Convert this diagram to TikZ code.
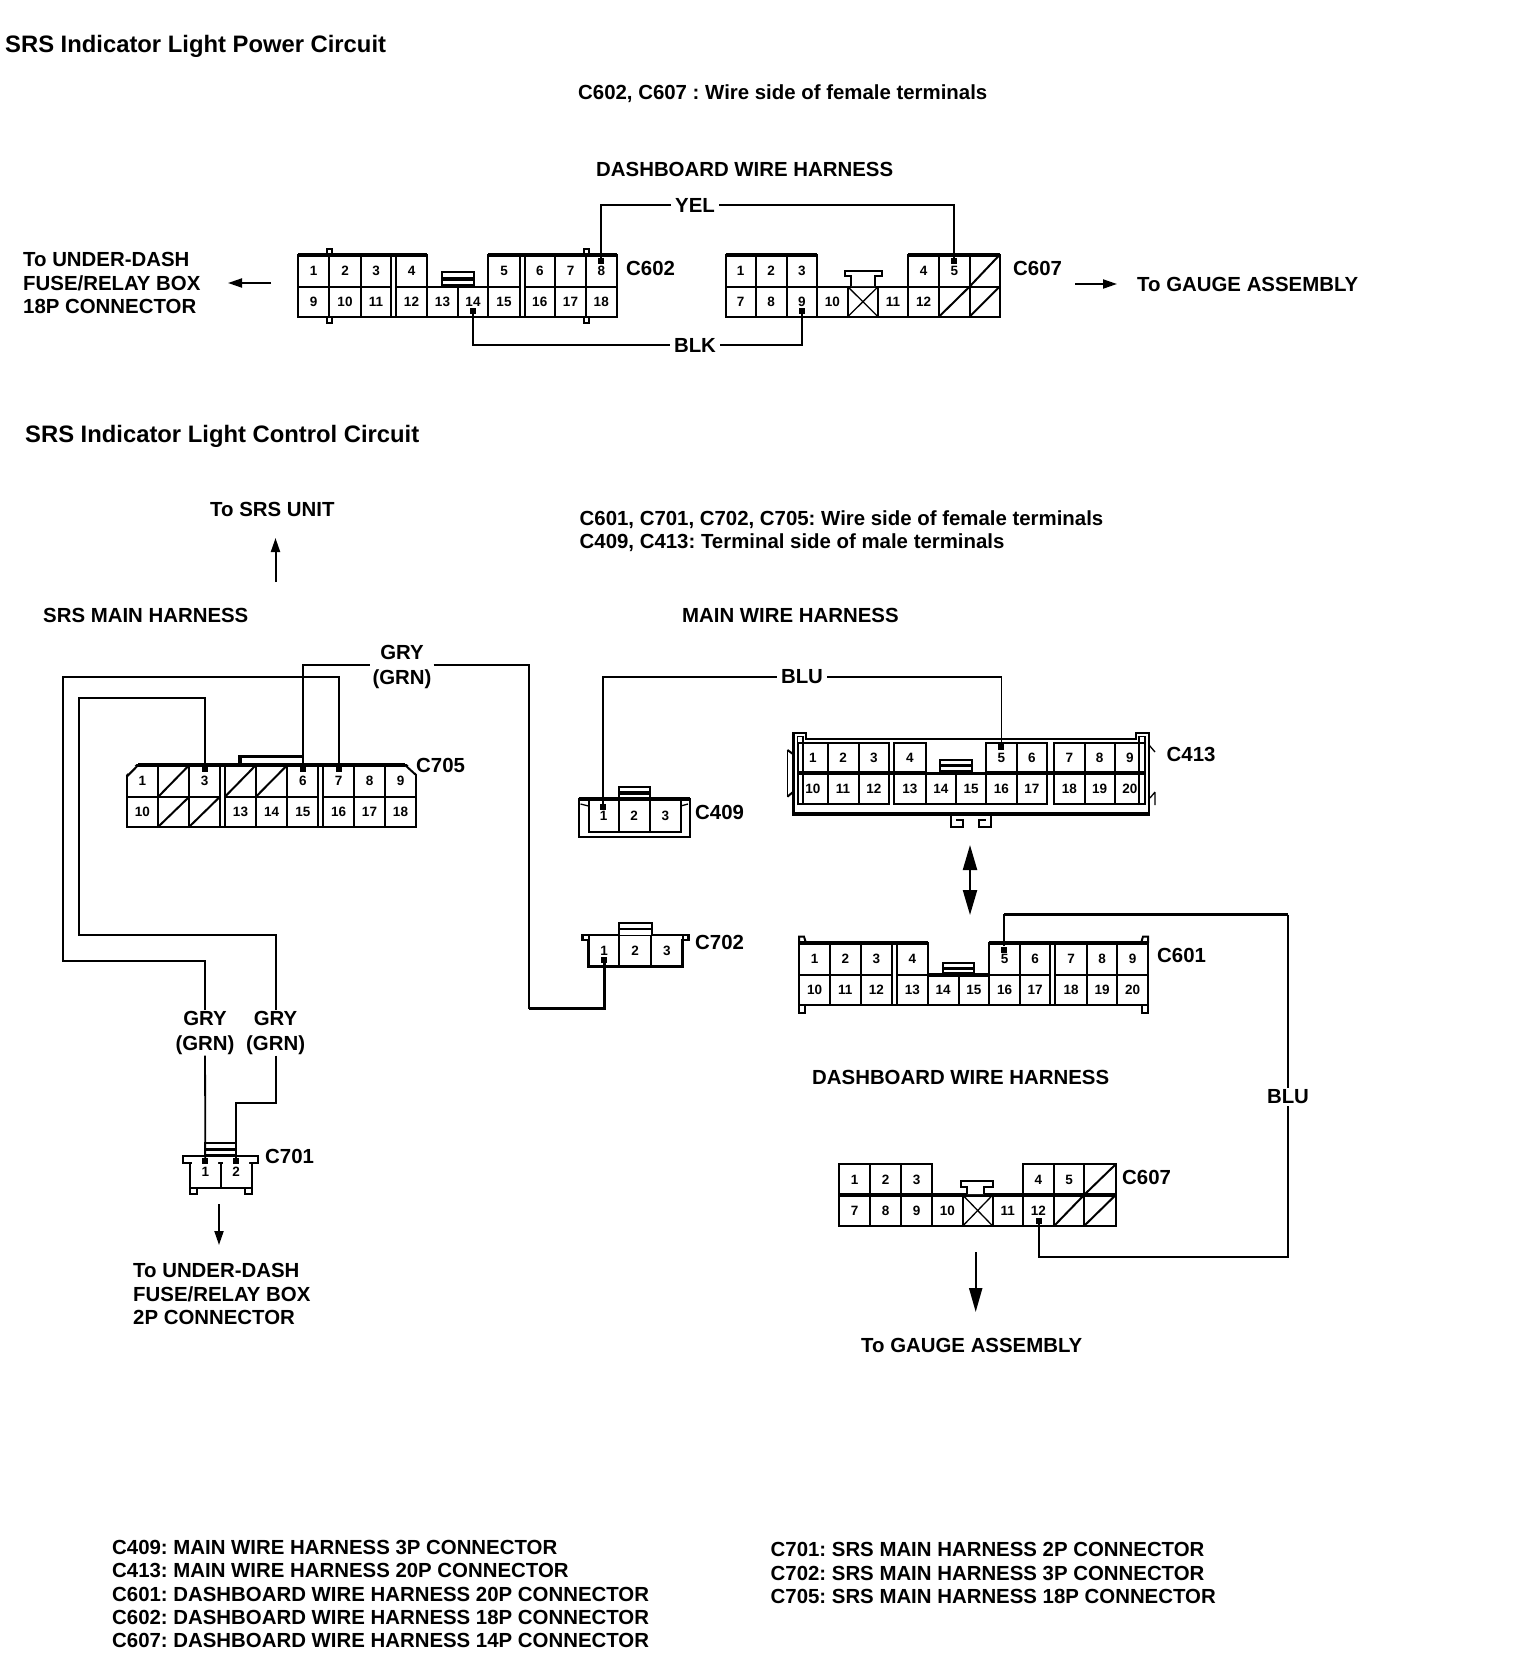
\documentclass[tikz,border=0pt]{standalone}
\usepackage{fontspec}
\setmainfont{Liberation Sans}
\usetikzlibrary{arrows.meta}
\tikzset{
  txt/.style={font=\frenchspacing\fontsize{20.4}{23.4}\selectfont\bfseries,inner sep=0pt,anchor=west,align=left},
  ttl/.style={txt,font=\frenchspacing\fontsize{23.8}{26}\selectfont\bfseries},
  wlabel/.style={font=\fontsize{20.4}{24.3}\selectfont\bfseries,inner sep=4pt,fill=white,align=center},
  pin/.style={font=\fontsize{13.5}{14}\selectfont\bfseries,inner sep=0pt},
  cellb/.style={line width=2pt,draw=black,line join=miter},
  thinl/.style={line width=1.3pt},
  heavy/.style={line width=3.2pt},
  outl/.style={line width=2.4pt,line join=miter},
  wire/.style={line width=1.8pt},
  fatwire/.style={line width=3pt},
  pdot/.style={rectangle,fill=black,inner sep=0pt,minimum size=6pt},
  arr/.style={line width=2pt,-{Triangle[length=14pt,width=9pt]}},
  bigarr/.style={line width=2.2pt,-{Triangle[length=24pt,width=13pt]}},
  dblarr/.style={line width=2.2pt,{Triangle[length=25pt,width=14pt]}-{Triangle[length=25pt,width=14pt]}},
}
\newcommand\pinrow[4]{\foreach \a/\b/\t in {#4}{%
  \draw[cellb] (\a,#2) rectangle (\b,#3);
  \node[pin] (#1-\t) at ({(\a+\b)/2},{(#2+#3)/2}) {\t};}}
\newcommand\slashrow[3]{\foreach \a/\b in {#3}{%
  \draw[cellb] (\a,#1) rectangle (\b,#2);
  \draw[cellb] (\a,#2) -- (\b,#1);}}
\newcommand\xcell[4]{\draw[cellb] (#1,#3) rectangle (#2,#4);\draw[thinl] (#1,#3) -- (#2,#4) (#1,#4) -- (#2,#3);}
\newcommand\latchbox[4]{\draw[cellb,fill=white] (#1,#3) rectangle (#2,#4);
  \draw[heavy] (#1,{#3+0.5*(#4-#3)}) -- (#2,{#3+0.5*(#4-#3)}) (#1,#4) -- (#2,#4);}
\begin{document}
\begin{tikzpicture}[x=1pt,y=-1pt]
\useasboundingbox (0,0) rectangle (1520,1654);
\fill[white] (0,0) rectangle (1520,1654);

% ---------- C602
\pinrow{c602}{255}{286.7}{298/329/1,329/361/2,361/391/3,396/427/4,488/520/5,524.5/555/6,555/586/7,586/616.5/8}
\pinrow{c602}{286.7}{316.7}{298/329/9,329/361/10,361/391/11,396/427/12,427/458/13,458/488/14,488/520/15,524.5/555/16,555/586/17,586/616.5/18}
\draw[heavy] (298,255) -- (427,255) (488,255) -- (616.5,255);
\draw[outl] (298,316.7) -- (616.5,316.7);
\draw[cellb] (326.5,249) rectangle (331.5,255) (326.5,317) rectangle (331.5,323) (583.5,249) rectangle (588.5,255) (583.5,317) rectangle (588.5,323);
\latchbox{442}{473.6}{272}{286}

% ---------- C607 (top)
\pinrow{c607}{255}{286.7}{725.6/755.7/1,755.7/786.7/2,786.7/816.8/3,908/939/4,939/969.5/5}
\pinrow{c607}{286.7}{316.7}{725.6/755.7/7,755.7/786.7/8,786.7/816.8/9,816.8/847.8/10,878/908/11,908/939/12}
\slashrow{255}{286.7}{969.5/999.5}
\slashrow{286.7}{316.7}{939/969.5,969.5/999.5}
\xcell{847.8}{878}{286.7}{316.7}
\draw[heavy] (725.6,255) -- (816.8,255) (908,255) -- (999.5,255);
\draw[cellb,fill=white] (851,286) -- (851,276) -- (845,276) -- (845,271) -- (882,271) -- (882,276) -- (875,276) -- (875,286);

% ---------- wires, top
\node[pdot] (d8) at (601,261) {};
\node[pdot] (d5) at (954,261) {};
\node[pdot] (d14) at (473,311) {};
\node[pdot] (d9) at (801.7,311) {};
\node[wlabel] (yel) at (695,205) {YEL};
\node[wlabel] (blk) at (695,345) {BLK};
\draw[wire] (d8) |- (yel) -| (d5);
\draw[wire] (d14) |- (blk) -| (d9);

\coordinate (a1s) at (271,283); \coordinate (a1e) at (228,283);
\draw[arr] (a1s) -- (a1e);
\coordinate (a2s) at (1075,284); \coordinate (a2e) at (1117,284);
\draw[arr] (a2s) -- (a2e);
\coordinate (a3s) at (275.5,582); \coordinate (a3e) at (275.5,538);
\draw[arr] (a3s) -- (a3e);

% ---------- C705
\pinrow{c705}{765}{796.7}{126.7/158.3/1,189.3/220/3,287.3/318.3/6,323.3/354/7,354/385/8,385/416/9}
\pinrow{c705}{796.7}{826.7}{126.7/158.3/10,225/256/13,256/287.3/14,287.3/318.3/15,323.3/354/16,354/385/17,385/416/18}
\slashrow{765}{796.7}{158.3/189.3,225/256,256/287.3}
\slashrow{796.7}{826.7}{158.3/189.3,189.3/220}
\draw[heavy] (138,765) -- (405,765);
\draw[outl] (126.7,826.7) -- (416,826.7);
\fill[white] (124,762) -- (138.3,762) -- (124,777) -- cycle;
\fill[white] (405,762) -- (418.5,762) -- (418.5,776) -- cycle;
\draw[cellb] (126.7,776.7) -- (138.3,765) (405,765) -- (416,775);
\draw[heavy] (240,763.5) -- (240,756.7) -- (302.8,756.7);

% ---------- wires, C705 to C701 and C702
\node[pdot] (d3) at (204.6,769) {};
\node[pdot] (d6) at (302.8,769) {};
\node[pdot] (d7) at (338.6,769) {};
\node[wlabel,inner sep=2pt] (gry1) at (402,667) {GRY\\(GRN)};
\node[wlabel,inner sep=1pt] (gry2) at (205,1033) {GRY\\(GRN)};
\node[wlabel,inner sep=1pt] (gry3) at (275.6,1033) {GRY\\(GRN)};
\coordinate (c1) at (62.7,676.7);
\coordinate (c2) at (62.7,960.6);
\coordinate (c3) at (79,698);
\coordinate (c4) at (79,935);
\coordinate (c5) at (236.2,1102.7);
\coordinate (gc) at (529,1008.5);
\draw[wire] (d7) |- (c1) -- (c2) -| (gry2);
\draw[wire] (d3) |- (c3) -- (c4) -| (gry3);
\draw[wire,line width=2.4pt] (d6) |- ([yshift=2pt]gry1.west);
\draw[wire] ([yshift=2pt]gry1.east) -| (gc);

% ---------- C701
\pinrow{c701}{1155.7}{1188}{190/220.7/1,220.7/251.7/2}
\draw[outl,fill=white,even odd rule] (183,1155.7) rectangle (258,1162.7);
\draw[cellb] (190,1162.7) -- (190,1194) -- (197,1194) -- (197,1188) (245,1188) -- (245,1194) -- (251.7,1194) -- (251.7,1162.7);
\fill[white] (192,1158) rectangle (218,1164) (223,1158) rectangle (249,1164);
\latchbox{205.3}{236.2}{1143}{1155.7}
\node[pdot] (e1) at (205.3,1161) {};
\node[pdot] (e2) at (236.2,1161) {};
\draw[wire] (gry2) -- (e1);
\draw[wire] (gry3) |- (c5) -- (e2);
\coordinate (a4s) at (219,1204); \coordinate (a4e) at (219,1245);
\draw[arr] (a4s) -- (a4e);

% ---------- C409
\pinrow{c409}{799}{832}{588.6/618.6/1,618.6/649.8/2,649.8/680.7/3}
\draw[outl] (578.7,799) rectangle (689.8,836.7);
\draw[heavy] (578.7,799) -- (689.8,799);
\draw[thinl] (580.5,804) -- (588.6,806) (688,804) -- (680.7,806);
\latchbox{618.6}{649.8}{787}{799}
\node[pdot] (f1) at (603.1,807) {};

% ---------- C413
\draw[thinl] (797.5,805) -- (797.5,736.5) -- (803,736.5) -- (803,805) (1139,805) -- (1139,736.5) -- (1145,736.5) -- (1145,805);
\pinrow{c413}{742.7}{773}{798/827.7/1,827.7/858.5/2,858.5/889/3,894/925.7/4,986/1016.7/5,1016.7/1047/6,1054/1084.6/7,1084.6/1114.7/8,1114.7/1145/9}
\pinrow{c413}{773}{804}{798/827.7/10,827.7/858.5/11,858.5/889/12,894/925.7/13,925.7/956/14,956/986/15,986/1016.7/16,1016.7/1047/17,1054/1084.6/18,1084.6/1114.7/19,1114.7/1145/20}
\draw[heavy] (798,773) -- (1145,773);
\draw[outl] (793.3,815) -- (793.3,732.7) -- (806,732.7) -- (806,739) -- (1136,739) -- (1136,732.7) -- (1149,732.7) -- (1149,815) -- cycle;
\draw[heavy] (793.3,814) -- (1149,814);
\fill[white] (927,741) rectangle (985,772);
\draw[cellb] (925.7,742.7) -- (925.7,773) (986,742.7) -- (986,773);
\latchbox{940.4}{972.4}{760}{771.7}
\draw[thinl] (787.4,750) -- (787.4,796.7);
\draw[cellb] (787.4,750) -- (793,754) (787.4,796.7) -- (793,792);
\draw[thinl] (1149,745) -- (1155,752) (1155,792) -- (1155,805) (1155,792) -- (1150,798);
\draw[cellb] (951,815) -- (951,826.7) -- (963,826.7) -- (963,820) -- (956,820) (991,815) -- (991,826.7) -- (979,826.7) -- (979,820) -- (986,820);
\node[pdot] (f5) at (1001.4,747) {};

% ---------- BLU wire C409 to C413
\node[wlabel] (blu1) at (802,677) {BLU};
\draw[wire] (f1) |- (blu1) -| (f5);

% ---------- C702
\pinrow{c702}{935}{966.7}{588.6/619.4/1,619.4/651/2,651/682.6/3}
\draw[outl] (588.6,966.7) -- (588.6,940) -- (582.6,940) -- (582.6,935) -- (688.6,935) -- (688.6,940) -- (682.6,940) -- (682.6,966.7) -- cycle;
\draw[heavy] (588.6,966.7) -- (682.6,966.7);
\draw[cellb,fill=white] (619,935) -- (619,923) -- (652,923) -- (652,935);
\draw[cellb] (619,929) -- (652,929);
\node[pdot] (g1) at (604,960) {};
\draw[fatwire] (gc) -| (g1);

% ---------- double arrow
\coordinate (da) at (970,845); \coordinate (db) at (970,915);
\draw[dblarr] (da) -- (db);

% ---------- C601
\pinrow{c601}{943}{975}{799/830/1,830/860.5/2,860.5/892/3,897/927.7/4,989/1020/5,1020/1050/6,1055/1087/7,1087/1117.4/8,1117.4/1148/9}
\pinrow{c601}{975}{1005}{799/830/10,830/860.5/11,860.5/892/12,897/927.7/13,927.7/958.5/14,958.5/989/15,989/1020/16,1020/1050/17,1055/1087/18,1087/1117.4/19,1117.4/1148/20}
\draw[heavy] (799,943) -- (927.7,943) (989,943) -- (1148,943) (927.7,975) -- (989,975);
\draw[outl] (799,1005) -- (1148,1005);
\draw[cellb] (799,943) -- (799,936.7) -- (804,936.7) -- (806,943) (1148,943) -- (1148,936.7) -- (1143,936.7) -- (1141,943);
\draw[cellb] (799,1005) -- (799,1012.7) -- (805,1012.7) -- (805,1005) (1148,1005) -- (1148,1012.7) -- (1142,1012.7) -- (1142,1005);
\latchbox{942.7}{974}{962.7}{973.5}
\node[pdot] (h5) at (1004,949.5) {};

% ---------- C607 (lower)
\pinrow{c607b}{1164.3}{1195}{839/870/1,870/901/2,901/932/3,1022.7/1054/4,1054/1084/5}
\pinrow{c607b}{1195}{1226}{839/870/7,870/901/8,901/932/9,932/962.7/10,992.7/1022.7/11,1022.7/1054/12}
\slashrow{1164.3}{1195}{1084/1115.7}
\slashrow{1195}{1226}{1054/1084,1084/1115.7}
\xcell{962.7}{992.7}{1195}{1226}
\draw[heavy] (839,1195) -- (1115.7,1195);
\draw[cellb,fill=white] (967,1194) -- (967,1186.5) -- (961,1186.5) -- (961,1181) -- (992.7,1181) -- (992.7,1186.5) -- (984,1186.5) -- (984,1194);
\node[pdot] (k12) at (1039,1220.5) {};

% ---------- BLU wire C601 to C607
\coordinate (r1) at (1288,914.5);
\coordinate (r2) at (1288,1257);
\node[wlabel,inner sep=2pt] (blu2) at (1288,1097) {BLU};
\draw[wire] (h5) |- (r1);
\draw[fatwire] (h5 |- r1) -- (r1);
\draw[wire] (r1) -- (blu2) -- (r2) -| (k12);
\coordinate (a5s) at (975.7,1252); \coordinate (a5e) at (975.7,1312);
\draw[bigarr] (a5s) -- (a5e);

% ---------- headings and texts
\node[ttl] (t1) at (5,46) {SRS Indicator Light Power Circuit};
\node[txt] (t2) at (578,93.5) {C602, C607 : Wire side of female terminals};
\node[txt] (t3) at (596,169.5) {DASHBOARD WIRE HARNESS};
\node[txt] (t4) at (23,283) {To UNDER-DASH\\FUSE/RELAY BOX\\18P CONNECTOR};
\node[txt] (t5) at (1137,284.5) {To GAUGE ASSEMBLY};
\node[ttl] (t6) at (25,436.5) {SRS Indicator Light Control Circuit};
\node[txt] (t7) at (210,509.5) {To SRS UNIT};
\node[txt] (t8) at (579.5,531) {C601, C701, C702, C705: Wire side of female terminals\\C409, C413: Terminal side of male terminals};
\node[txt] (t9) at (43,615.5) {SRS MAIN HARNESS};
\node[txt] (t10) at (682,615.5) {MAIN WIRE HARNESS};
\node[txt] (t11) at (133,1294) {To UNDER-DASH\\FUSE/RELAY BOX\\2P CONNECTOR};
\node[txt] (t12) at (812,1077) {DASHBOARD WIRE HARNESS};
\node[txt] (t13) at (861,1345) {To GAUGE ASSEMBLY};
\node[txt] (t14) at (112,1594) {C409: MAIN WIRE HARNESS 3P CONNECTOR\\C413: MAIN WIRE HARNESS 20P CONNECTOR\\C601: DASHBOARD WIRE HARNESS 20P CONNECTOR\\C602: DASHBOARD WIRE HARNESS 18P CONNECTOR\\C607: DASHBOARD WIRE HARNESS 14P CONNECTOR};
\node[txt] (t15) at (770.5,1573) {C701: SRS MAIN HARNESS 2P CONNECTOR\\C702: SRS MAIN HARNESS 3P CONNECTOR\\C705: SRS MAIN HARNESS 18P CONNECTOR};

% connector names
\node[txt] (n602) at (626,268.5) {C602};
\node[txt] (n607) at (1013,268.5) {C607};
\node[txt] (n705) at (416,765) {C705};
\node[txt] (n413) at (1166.5,754) {C413};
\node[txt] (n409) at (695,812) {C409};
\node[txt] (n702) at (695,942) {C702};
\node[txt] (n601) at (1157,955) {C601};
\node[txt] (n701) at (265,1156) {C701};
\node[txt] (n607b) at (1122,1177) {C607};
\end{tikzpicture}
\end{document}
